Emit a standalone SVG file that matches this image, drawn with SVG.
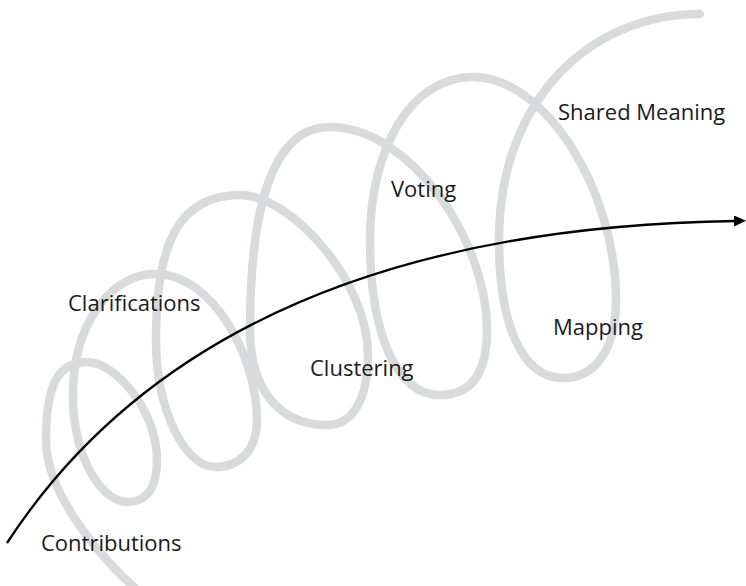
<svg xmlns="http://www.w3.org/2000/svg" width="746" height="586" viewBox="0 0 746 586">
  <style>
    .spiral { fill: none; stroke: #d9dadb; stroke-width: 8.5; stroke-linecap: round; stroke-linejoin: round; }
    .flow { fill: none; stroke: #000000; stroke-width: 2.3; }
    .label { font-family: "Open Sans", "Noto Sans", "Liberation Sans", sans-serif; font-size: 22px; fill: #1a1a1a; }
  </style>
  <defs>
    <marker id="arrowhead" markerUnits="userSpaceOnUse" markerWidth="12" markerHeight="12" refX="2" refY="5.5" orient="auto">
      <path d="M0,0 L12,5.5 L0,11 Z" fill="#000000"/>
    </marker>
  </defs>
  <rect width="746" height="586" fill="#ffffff"/>
  <g id="spiral">
    <path class="spiral" d="M137,590
      C112,568 46,500 46,440
      C46,385 58,362 87,362
      C115,362 157,410 157,460
      C157,490 145,502 128,502
      C100,502 73,455 73,395
      C73,325 110,274 155,274
      C215,274 257,360 257,420
      C257,450 240,467 215,467
      C185,467 156,410 156,340
      C156,250 175,195 240,195
      C290,195 368,280 368,355
      C368,395 355,425 327,425
      C280,425 250,390 250,330
      C250,230 265,127 330,127
      C410,127 487,240 487,330
      C487,375 470,395 440,395
      C395,395 370,330 370,240
      C370,150 410,77 473,77
      C545,77 616,190 616,300
      C616,350 595,378 563,378
      C520,378 499,320 499,240
      C499,100 590,14 700,14"/>
  </g>
  <g id="connectors">
    <path id="progress-arrow" class="flow" d="M7,543 Q212,229 736,221" marker-end="url(#arrowhead)"/>
  </g>
  <g id="contributions"><text class="label" x="41" y="551">Contributions</text></g>
  <g id="clarifications"><text class="label" x="68" y="311">Clarifications</text></g>
  <g id="clustering"><text class="label" x="310" y="376">Clustering</text></g>
  <g id="voting"><text class="label" x="391" y="197">Voting</text></g>
  <g id="mapping"><text class="label" x="553" y="335">Mapping</text></g>
  <g id="shared-meaning"><text class="label" x="558" y="120">Shared Meaning</text></g>
</svg>
